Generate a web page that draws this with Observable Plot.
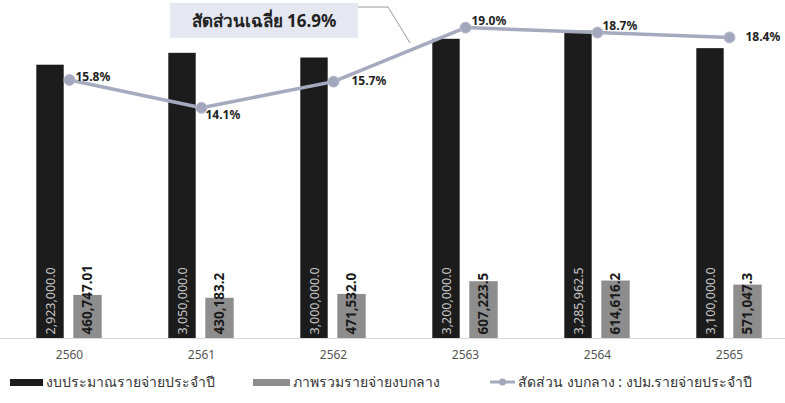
<!DOCTYPE html>
<html>
<head>
<meta charset="utf-8">
<script src="https://cdn.jsdelivr.net/npm/d3@7"></script>
<script src="https://cdn.jsdelivr.net/npm/@observablehq/plot@0.6"></script>
<style>
  body { margin: 0; background: #fff; font-family: Tahoma, "Noto Sans", "DejaVu Sans", sans-serif; }
  #wrap { position: relative; width: 785px; height: 403px; overflow: hidden; }
  #title { position: absolute; left: 170px; top: 3px; width: 188px; height: 35px; background: #e5e7f1;
           font-weight: bold; font-size: 17px; color: #222; display: flex; align-items: center; justify-content: center; }
  #callout { position: absolute; left: 0; top: 0; pointer-events: none; }
  .leg { position: absolute; top: 371px; font-size: 14px; color: #333; display: flex; align-items: center; white-space: nowrap; }
  .sw { display: inline-block; margin-right: 3px; }
</style>
</head>
<body>
<div id="wrap">
  <div id="chart"></div>
  <div id="title"></div>
  <svg id="callout" width="785" height="60"><path d="M358,7 L388,7 L410,43" fill="none" stroke="#999" stroke-width="1"/></svg>
  <div id="legend"></div>
</div>
<script>
const years = ["2560", "2561", "2562", "2563", "2564", "2565"];
const budget = [2923000.0, 3050000.0, 3000000.0, 3200000.0, 3285962.5, 3100000.0];
const budgetLabels = ["2,923,000.0", "3,050,000.0", "3,000,000.0", "3,200,000.0", "3,285,962.5", "3,100,000.0"];
const central = [460747.01, 430183.2, 471532.0, 607223.5, 614616.2, 571047.3];
const centralLabels = ["460,747.01", "430,183.2", "471,532.0", "607,223.5", "614,616.2", "571,047.3"];
const ratio = [15.8, 14.1, 15.7, 19.0, 18.7, 18.4];
const ratioLabels = ["15.8%", "14.1%", "15.7%", "19.0%", "18.7%", "18.4%"];
const titleText = "สัดส่วนเฉลี่ย 16.9%";
const seriesNames = ["งบประมาณรายจ่ายประจำปี", "ภาพรวมรายจ่ายงบกลาง", "สัดส่วน งบกลาง : งปม.รายจ่ายประจำปี"];

const rows = years.map((y, i) => ({
  year: y, budget: budget[i], budgetLabel: budgetLabels[i],
  central: central[i], centralLabel: centralLabels[i],
  ratio: ratio[i], ratioLabel: ratioLabels[i], i
}));

// secondary axis: ratio (%) mapped onto primary y units
const ratioK = 175000;
const half = 66.3;
const labelOffsets = [[6, -3], [4, 7], [18, 0], [6, -6], [5, -6], [16, 0]];

const chart = Plot.plot({
  width: 785,
  height: 370,
  marginTop: 0,
  marginBottom: 32,
  marginLeft: 0,
  marginRight: 0,
  style: { fontFamily: 'Tahoma, "Noto Sans", "DejaVu Sans", sans-serif', background: "transparent" },
  x: { domain: years, range: [68 - half, 731 + half], padding: 0, label: null },
  y: { domain: [0, 3615000], axis: null },
  marks: [
    Plot.ruleY([0], { stroke: "#d8d8d8" }),
    Plot.barY(rows, { x: "year", y: "budget", fill: "#1c1c1c", insetLeft: half - 33, insetRight: half + 5 }),
    Plot.barY(rows, { x: "year", y: "central", fill: "#8d8d8d", insetLeft: half + 4, insetRight: half - 33 }),
    Plot.text(rows, { x: "year", y: 0, text: "budgetLabel", rotate: -90, textAnchor: "start", dx: -19, dy: -4, fill: "#c8c8c8", fontSize: 12.5 }),
    Plot.text(rows, { x: "year", y: 0, text: "centralLabel", rotate: -90, textAnchor: "start", dx: 18, dy: -4, fill: "#1a1a1a", fontSize: 13.5, fontWeight: "bold" }),
    Plot.lineY(rows, { x: "year", y: d => d.ratio * ratioK, stroke: "#a6aabf", strokeWidth: 3.5 }),
    Plot.dot(rows, { x: "year", y: d => d.ratio * ratioK, r: 5.5, fill: "#a3a7bb", stroke: "#b8bbcc", strokeWidth: 1 }),
    ...rows.map((r, k) => Plot.text([r], { x: "year", y: d => d.ratio * ratioK, text: "ratioLabel", textAnchor: "start",
      dx: labelOffsets[k][0], dy: labelOffsets[k][1], fill: "#222", fontSize: 12, fontWeight: "bold" })),
    Plot.axisX({ tickSize: 0, tickPadding: 12, fontSize: 12, color: "#555", label: null })
  ]
});
document.getElementById("chart").appendChild(chart);
document.getElementById("title").textContent = titleText;

const legend = document.getElementById("legend");
const items = [
  { left: 10, sw: '<span class="sw" style="width:33px;height:7px;background:#1c1c1c"></span>' },
  { left: 253, sw: '<span class="sw" style="width:37px;height:7px;background:#8d8d8d"></span>' },
  { left: 490, sw: '<svg class="sw" width="25" height="10"><line x1="0" y1="5" x2="25" y2="5" stroke="#a6aabf" stroke-width="3"/><circle cx="12.5" cy="5" r="3.5" fill="#a3a7bb"/></svg>' }
];
items.forEach((it, i) => {
  const d = document.createElement("div");
  d.className = "leg";
  d.style.left = it.left + "px";
  d.innerHTML = it.sw + "<span></span>";
  d.lastChild.textContent = seriesNames[i];
  legend.appendChild(d);
});
</script>
</body>
</html>
